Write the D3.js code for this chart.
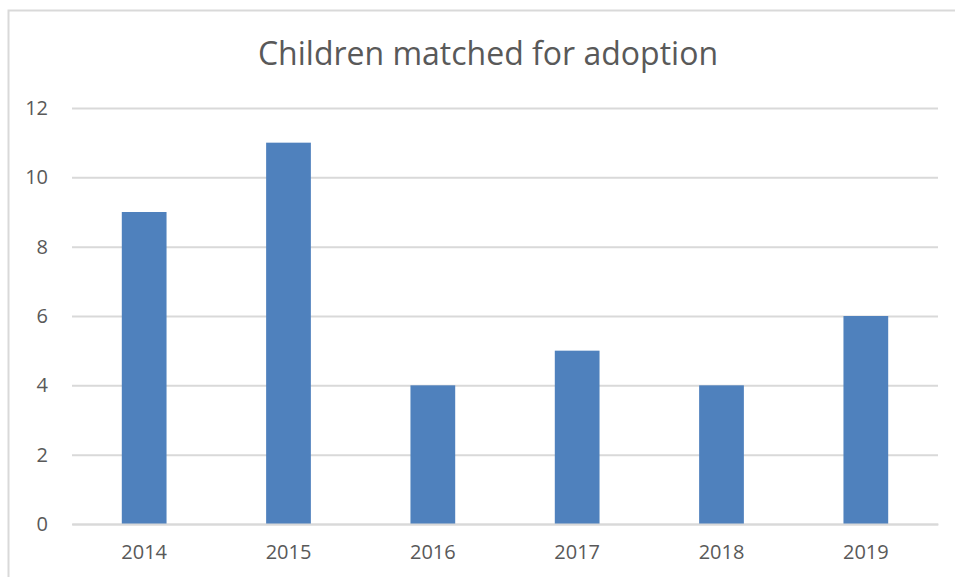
<!DOCTYPE html>
<html>
<head>
<meta charset="utf-8">
<script src="https://cdn.jsdelivr.net/npm/d3@7"></script>
<style>
  body { margin: 0; background: #fff; }
  svg { display: block; }
  svg text { font-family: "Open Sans", "Noto Sans", sans-serif; fill: #595959; }
</style>
</head>
<body>
<svg id="chart" width="955" height="577"></svg>
<script>
const years = ['2014', '2015', '2016', '2017', '2018', '2019'];
const matched = [9, 11, 4, 5, 4, 6];
const yTicks = [0, 2, 4, 6, 8, 10, 12];

const svg = d3.select('#chart');
const plot = { left: 72, right: 938, top: 108, bottom: 524 };

// chart frame (cut off at right and bottom)
svg.append('rect')
  .attr('x', 8.5).attr('y', 10.5)
  .attr('width', 970).attr('height', 600)
  .attr('fill', 'none').attr('stroke', '#d9d9d9').attr('stroke-width', 2);

svg.append('text')
  .attr('x', 488).attr('y', 65)
  .attr('text-anchor', 'middle')
  .style('font-size', '32px')
  .text('Children matched for adoption');

const x = d3.scaleBand().domain(years).range([plot.left, plot.right]).paddingInner(0.69).paddingOuter(0.345);
const y = d3.scaleLinear().domain([0, 12]).range([plot.bottom, plot.top]);

const yAxis = svg.append('g')
  .attr('transform', `translate(${plot.left},0)`)
  .call(d3.axisLeft(y).tickValues(yTicks).tickSize(-(plot.right - plot.left)).tickPadding(24));
yAxis.select('.domain').remove();
yAxis.selectAll('line').attr('stroke', '#d9d9d9').attr('stroke-width', 2);
yAxis.selectAll('text').style('font-size', '20px');

svg.selectAll('.bar')
  .data(matched)
  .join('rect')
  .attr('class', 'bar')
  .attr('x', (d, i) => x(years[i]))
  .attr('y', d => y(d))
  .attr('width', x.bandwidth())
  .attr('height', d => y(0) - y(d))
  .attr('fill', '#4f81bd');

const xAxis = svg.append('g')
  .attr('transform', `translate(0,${plot.bottom})`)
  .call(d3.axisBottom(x).tickSize(0).tickPadding(21));
xAxis.select('.domain').attr('stroke', '#d9d9d9').attr('stroke-width', 2);
xAxis.selectAll('text').style('font-size', '20px');
</script>
</body>
</html>
